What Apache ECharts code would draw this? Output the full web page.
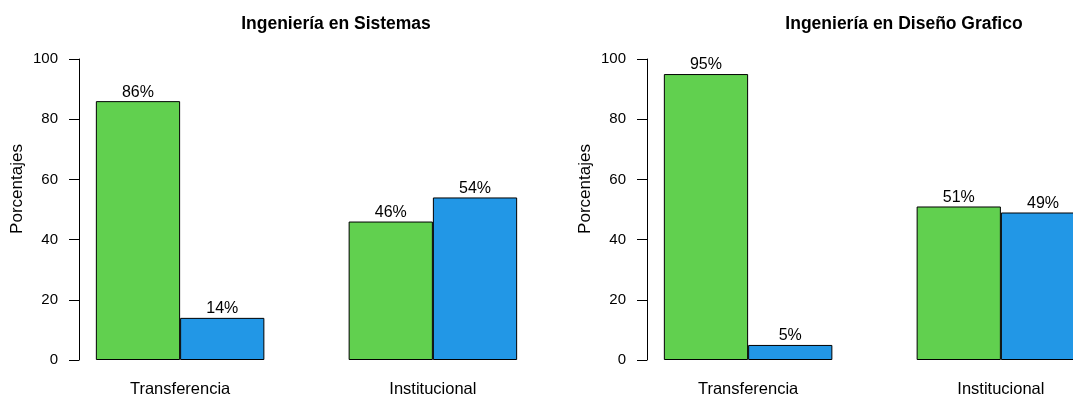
<!DOCTYPE html>
<html>
<head>
<meta charset="utf-8">
<script src="https://cdn.jsdelivr.net/npm/echarts@6/dist/echarts.min.js"></script>
<style>html,body{margin:0;padding:0;background:#fff}#c{width:1073px;height:398px}</style>
</head>
<body>
<div id="c"></div>
<script>
const categories = ['Transferencia', 'Institucional'];
const titles = ['Ingeniería en Sistemas', 'Ingeniería en Diseño Grafico'];
const sistemasGreen = [86, 46];
const sistemasBlue = [14, 54];
const disenoGreen = [95, 51];
const disenoBlue = [5, 49];
const yTicks = [0, 20, 40, 60, 80, 100];
const yName = 'Porcentajes';

const GREEN = '#61D04F', BLUE = '#2297E6';
const FONT = 'Liberation Sans, Arial, sans-serif';
const GRID_W = 455, X_MIN = 0.8, X_MAX = 6.2;
const UNIT = GRID_W / (X_MAX - X_MIN);
const panels = [
  { title: titles[0], green: sistemasGreen, blue: sistemasBlue, left: 79, width: GRID_W },
  { title: titles[1], green: disenoGreen, blue: disenoBlue, left: 647, width: 1073 - 647 }
];

function near(a, b) { return Math.abs(a - b) < 1e-6; }

const option = {
  animation: false,
  backgroundColor: '#fff',
  title: panels.map(p => ({
    text: p.title,
    left: p.left + 252,
    top: 10,
    textAlign: 'center',
    textStyle: { fontFamily: FONT, fontWeight: 'bold', fontSize: 17.5, color: '#000' }
  })),
  grid: panels.map(p => ({ left: p.left, top: 59, width: p.width, height: 302 })),
  xAxis: panels.map((p, i) => ({
    type: 'value', gridIndex: i, min: X_MIN, max: X_MIN + p.width / UNIT, interval: 0.2,
    axisLine: { show: false }, axisTick: { show: false }, splitLine: { show: false },
    axisLabel: {
      margin: 21, fontFamily: FONT, fontSize: 16.5, color: '#000',
      showMinLabel: false, showMaxLabel: false,
      formatter: v => {
        for (let k = 0; k < categories.length; k++) if (near(v, 2 + 3 * k)) return categories[k];
        return '';
      }
    }
  })),
  yAxis: panels.map((p, i) => ({
    type: 'value', gridIndex: i, min: yTicks[0], max: yTicks[yTicks.length - 1],
    interval: yTicks[1] - yTicks[0],
    axisLine: { show: true, lineStyle: { color: '#000', width: 1 } },
    axisTick: { show: true, length: 10, lineStyle: { color: '#000', width: 1 } },
    splitLine: { show: false },
    axisLabel: { margin: 21, fontFamily: FONT, fontSize: 15, color: '#000' }
  })),
  graphic: panels.map(p => ({
    type: 'text', x: p.left - 62, y: 189, rotation: Math.PI / 2,
    style: { text: yName, font: '17px ' + FONT, fill: '#000', align: 'center', verticalAlign: 'middle' }
  })),
  series: panels.map((p, i) => {
    const data = [];
    categories.forEach((c, k) => {
      data.push({ value: [1.5 + 3 * k, p.green[k]], itemStyle: { color: GREEN } });
      data.push({ value: [2.5 + 3 * k, p.blue[k]], itemStyle: { color: BLUE } });
    });
    return {
      type: 'bar', xAxisIndex: i, yAxisIndex: i,
      barWidth: UNIT,
      clip: false,
      data,
      itemStyle: { borderColor: '#000', borderWidth: 1 },
      label: {
        show: true, position: 'top', distance: 1,
        fontFamily: FONT, fontSize: 16, color: '#000',
        formatter: q => q.value[1] + '%'
      }
    };
  })
};

const chart = echarts.init(document.getElementById('c'), null, { renderer: 'canvas' });
chart.setOption(option);
</script>
</body>
</html>
